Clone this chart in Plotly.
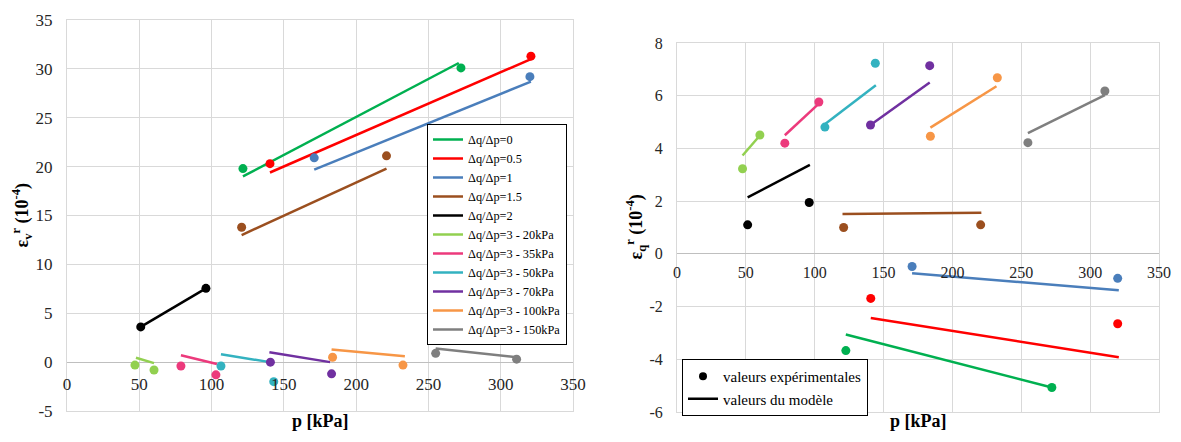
import plotly.graph_objects as go

# ---------------- data ----------------
series_names = ["Δq/Δp=0", "Δq/Δp=0.5", "Δq/Δp=1", "Δq/Δp=1.5", "Δq/Δp=2",
                "Δq/Δp=3 - 20kPa", "Δq/Δp=3 - 35kPa", "Δq/Δp=3 - 50kPa",
                "Δq/Δp=3 - 70kPa", "Δq/Δp=3 - 100kPa", "Δq/Δp=3 - 150kPa"]

# left chart: volumetric strain eps_v^r (1e-4)
ev_exp_p = [[121.7, 272.5], [140.4, 320.9], [171.0, 320.2], [120.8, 221.0], [51.0, 96.1],
            [47.0, 60.2], [78.8, 103.0], [106.5, 143.0], [140.7, 183.0], [183.7, 232.4], [255.0, 311.0]]
ev_exp_v = [[19.8, 30.1], [20.3, 31.3], [20.9, 29.2], [13.8, 21.1], [3.6, 7.55],
            [-0.3, -0.8], [-0.4, -1.3], [-0.4, -2.0], [0.0, -1.2], [0.5, -0.3], [0.9, 0.3]]
ev_mod_p = [[121.7, 271.0], [140.4, 320.9], [171.0, 320.9], [120.8, 221.0], [51.0, 96.1],
            [47.7, 60.2], [78.8, 103.7], [106.5, 140.4], [140.0, 182.0], [183.0, 233.7], [255.0, 311.0]]
ev_mod_v = [[19.0, 30.6], [19.4, 31.0], [19.7, 28.7], [13.0, 19.8], [3.6, 7.55],
            [0.45, -0.1], [0.7, -0.2], [0.8, 0.0], [1.0, 0.0], [1.3, 0.6], [1.4, 0.5]]

# right chart: deviatoric strain eps_q^r (1e-4)
eq_exp_p = [[122.6, 272.2], [140.7, 320.0], [170.7, 320.0], [121.0, 220.5], [51.3, 96.0],
            [47.6, 60.2], [78.3, 103.0], [107.4, 144.0], [140.5, 183.5], [184.0, 232.6], [254.8, 310.7]]
eq_exp_v = [[-3.67, -5.07], [-1.69, -2.65], [-0.48, -0.93], [1.0, 1.1], [1.1, 1.95],
            [3.23, 4.51], [4.2, 5.76], [4.81, 7.23], [4.89, 7.14], [4.46, 6.68], [4.22, 6.18]]
eq_mod_p = [[122.6, 272.2], [140.7, 320.8], [170.7, 320.8], [120.2, 221.0], [51.3, 96.5],
            [47.6, 59.7], [78.3, 103.0], [107.8, 144.4], [140.5, 183.5], [184.0, 232.0], [254.8, 310.7]]
eq_mod_v = [[-3.06, -5.07], [-2.43, -3.92], [-0.74, -1.38], [1.51, 1.56], [2.14, 3.38],
            [3.73, 4.46], [4.5, 5.7], [4.94, 6.4], [4.89, 6.5], [4.79, 6.36], [4.58, 6.02]]

x_ticks = [0, 50, 100, 150, 200, 250, 300, 350]
ev_ticks = [-5, 0, 5, 10, 15, 20, 25, 30, 35]
eq_ticks = [-6, -4, -2, 0, 2, 4, 6, 8]

legend2_names = ["valeurs expérimentales", "valeurs du modèle"]

colors = ["#00B050", "#FF0000", "#4A7EBB", "#9B4F1F", "#000000",
          "#92D050", "#EC3A7C", "#33B2C0", "#7030A0", "#F79646", "#7F7F7F"]

# ---------------- figure ----------------
PAGE_W, PAGE_H = 1181, 442
BODY = 8  # default page margin around the plot div
W, H = PAGE_W - 2 * BODY, PAGE_H - 2 * BODY
FONT = "Liberation Serif"

fig = go.Figure()

for i, name in enumerate(series_names):
    c = colors[i]
    fig.add_trace(go.Scatter(x=ev_mod_p[i], y=ev_mod_v[i], mode="lines", name=name,
                             line=dict(color=c, width=2.5), xaxis="x", yaxis="y",
                             legend="legend"))
    fig.add_trace(go.Scatter(x=ev_exp_p[i], y=ev_exp_v[i], mode="markers", name=name,
                             marker=dict(color=c, size=9), xaxis="x3", yaxis="y",
                             showlegend=False))
    fig.add_trace(go.Scatter(x=eq_mod_p[i], y=eq_mod_v[i], mode="lines", name=name,
                             line=dict(color=c, width=2.5), xaxis="x2", yaxis="y2",
                             showlegend=False))
    fig.add_trace(go.Scatter(x=eq_exp_p[i], y=eq_exp_v[i], mode="markers", name=name,
                             marker=dict(color=c, size=9), xaxis="x4", yaxis="y2",
                             showlegend=False))

# legend entries for the right chart
fig.add_trace(go.Scatter(x=[None], y=[None], mode="markers", name=legend2_names[0],
                         marker=dict(color="black", size=8), xaxis="x2", yaxis="y2",
                         legend="legend2"))
fig.add_trace(go.Scatter(x=[None], y=[None], mode="lines", name=legend2_names[1],
                         line=dict(color="black", width=2.5), xaxis="x2", yaxis="y2",
                         legend="legend2"))

grid = "#d9d9d9"
tickfont_l = dict(family=FONT, size=17, color="#262626")
tickfont_r = dict(family=FONT, size=16, color="#262626")

def px_x(p):
    return (p - BODY) / W

def px_y(p):
    return 1 - (p - BODY) / H

lx = [px_x(67), px_x(573)]
ly = [px_y(411), px_y(20)]
rx = [px_x(677), px_x(1159)]
ry = [px_y(412), px_y(43)]

pos_l = ly[0] + (0 - ev_ticks[0]) / (ev_ticks[-1] - ev_ticks[0]) * (ly[1] - ly[0])
pos_r = ry[0] + (0 - eq_ticks[0]) / (eq_ticks[-1] - eq_ticks[0]) * (ry[1] - ry[0])

common_x = dict(range=[x_ticks[0], x_ticks[-1]], tickvals=x_ticks, showgrid=True,
                gridcolor=grid, gridwidth=1, zeroline=False, showline=True,
                linecolor=grid, mirror=True, showticklabels=False, ticks="",
                automargin=False)

fig.update_layout(
    width=W, height=H, autosize=False,
    margin=dict(l=0, r=0, t=0, b=0, pad=0),
    font=dict(family=FONT, color="black"),
    paper_bgcolor="white", plot_bgcolor="white",
    xaxis=dict(domain=lx, anchor="y", **common_x),
    xaxis2=dict(domain=rx, anchor="y2", **common_x),
    xaxis3=dict(overlaying="x", anchor="free", position=pos_l,
                range=[x_ticks[0], x_ticks[-1]], tickvals=x_ticks,
                ticktext=[str(t) for t in x_ticks], showgrid=False,
                zeroline=False, showline=False, ticks="outside", ticklen=6,
                tickcolor="rgba(0,0,0,0)", tickfont=tickfont_l, automargin=False),
    xaxis4=dict(overlaying="x2", anchor="free", position=pos_r,
                range=[x_ticks[0], x_ticks[-1]], tickvals=x_ticks,
                ticktext=[str(t) for t in x_ticks], showgrid=False,
                zeroline=False, showline=False, ticks="outside", ticklen=4,
                tickcolor="rgba(0,0,0,0)", tickfont=tickfont_r, automargin=False),
    yaxis=dict(domain=ly, anchor="x", range=[ev_ticks[0], ev_ticks[-1]], tickvals=ev_ticks,
               ticktext=[str(t) for t in ev_ticks],
               showgrid=True, gridcolor=grid, zeroline=True, zerolinecolor="#bfbfbf",
               zerolinewidth=1, showline=True, linecolor=grid, mirror=True,
               ticks="outside", ticklen=10, tickcolor="rgba(0,0,0,0)", tickfont=tickfont_l,
               automargin=False),
    yaxis2=dict(domain=ry, anchor="x2", range=[eq_ticks[0], eq_ticks[-1]], tickvals=eq_ticks,
                ticktext=[str(t) for t in eq_ticks],
                showgrid=True, gridcolor=grid, zeroline=True, zerolinecolor="#bfbfbf",
                zerolinewidth=1, showline=True, linecolor=grid, mirror=True,
                ticks="outside", ticklen=10, tickcolor="rgba(0,0,0,0)", tickfont=tickfont_r,
                automargin=False),
    legend=dict(x=px_x(427), y=px_y(124), xanchor="left", yanchor="top",
                bgcolor="white", bordercolor="black", borderwidth=1,
                font=dict(family=FONT, size=12.3, color="black"), tracegroupgap=0),
    legend2=dict(x=px_x(682), y=px_y(359), xanchor="left", yanchor="top",
                 bgcolor="white", bordercolor="black", borderwidth=1,
                 font=dict(family=FONT, size=15, color="black")),
    showlegend=True,
)

title_font = dict(family=FONT, size=18, color="black")
ytitle_font = dict(family=FONT, size=18, color="black")
fig.add_annotation(text="<b>p [kPa]</b>", x=(lx[0] + lx[1]) / 2, y=px_y(421),
                   xref="paper", yref="paper", showarrow=False, font=title_font,
                   xanchor="center", yanchor="middle")
fig.add_annotation(text="<b>p [kPa]</b>", x=(rx[0] + rx[1]) / 2, y=px_y(421),
                   xref="paper", yref="paper", showarrow=False, font=title_font,
                   xanchor="center", yanchor="middle")
fig.add_annotation(text="<b>ε<sub>v</sub><sup>r</sup> (10<sup>-4</sup>)</b>",
                   x=px_x(22), y=(ly[0] + ly[1]) / 2, xref="paper", yref="paper",
                   showarrow=False, textangle=-90, font=ytitle_font,
                   xanchor="center", yanchor="middle")
fig.add_annotation(text="<b>ε<sub>q</sub><sup>r</sup> (10<sup>-4</sup>)</b>",
                   x=px_x(636), y=(ry[0] + ry[1]) / 2, xref="paper", yref="paper",
                   showarrow=False, textangle=-90, font=ytitle_font,
                   xanchor="center", yanchor="middle")

fig.write_html("out.html")
